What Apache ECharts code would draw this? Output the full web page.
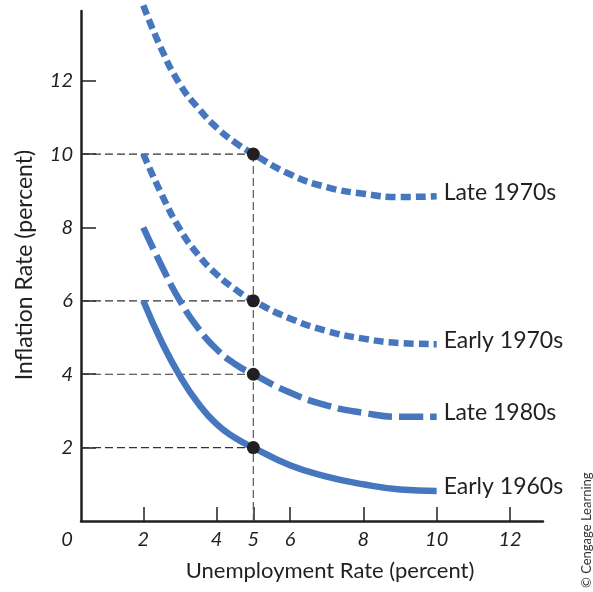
<!DOCTYPE html>
<html>
<head>
<meta charset="utf-8">
<script src="https://cdn.jsdelivr.net/npm/echarts@6/dist/echarts.min.js"></script>
<style>
html,body{margin:0;padding:0;background:#fff;}
#chart{width:593px;height:592px;}
</style>
</head>
<body>
<div id="chart"></div>
<script>
// ---- data ----
const unemployment = [2, 2.5, 3, 3.5, 4, 4.5, 5, 6, 7, 8, 9, 10];
const late1970s  = [14.05, 12.85, 11.9, 11.25, 10.72, 10.32, 10, 9.45, 9.1, 8.92, 8.83, 8.85];
const early1970s = [10, 8.9, 7.95, 7.25, 6.72, 6.32, 6, 5.52, 5.18, 4.97, 4.85, 4.82];
const late1980s  = [8, 6.95, 6.0, 5.25, 4.68, 4.28, 4, 3.5, 3.15, 2.95, 2.84, 2.84];
const early1960s = [6, 4.88, 3.95, 3.2, 2.64, 2.27, 2, 1.52, 1.21, 1.0, 0.86, 0.82];
const seriesNames = ['Late 1970s', 'Early 1970s', 'Late 1980s', 'Early 1960s'];
const markedX = 5;
const markedY = [10, 6, 4, 2];
const xTicks = [2, 4, 5, 6, 8, 10, 12];
const yTicks = [2, 4, 6, 8, 10, 12];
const xMin = 0.3, xMax = 12.9, yMin = 0, yMax = 13.9;
const xTitle = 'Unemployment Rate (percent)';
const yTitle = 'Inflation Rate (percent)';
const credit = '© Cengage Learning';

// ---- chart ----
const BLUE = '#4677be';
const INK = '#231f20';
const FONT = 'Lato, "DejaVu Sans", sans-serif';
const pairs = ys => unemployment.map((x, i) => [x, ys[i]]);

const curve = (name, ys, dash) => ({
  name, type: 'line', data: pairs(ys), smooth: 0.5, symbol: 'none', clip: false, z: 3,
  lineStyle: { color: BLUE, width: 6.5, type: dash, cap: 'butt' },
  endLabel: { show: true, formatter: '{a}', color: INK, fontSize: 23, fontFamily: FONT, distance: 7, offset: [0, -4] },
  emphasis: { disabled: true }, animation: false
});

const guides = [];
markedY.forEach(y => {
  guides.push({ type: 'line', data: [[xMin, y], [markedX, y]], symbol: 'none', z: 2, silent: true, animation: false,
    lineStyle: { color: '#333', width: 1.2, type: [8, 4] } });
});
guides.push({ type: 'line', data: [[markedX, Math.max(...markedY)], [markedX, yMin]], symbol: 'none', z: 2, silent: true, animation: false,
  lineStyle: { color: '#555', width: 1.2, type: [8, 4] } });

const chart = echarts.init(document.getElementById('chart'), null, { renderer: 'canvas' });
chart.setOption({
  animation: false,
  grid: { left: 81, right: 50, top: 11, bottom: 71, containLabel: false },
  xAxis: {
    type: 'value', min: xMin, max: xMax,
    splitLine: { show: false },
    axisLine: { lineStyle: { color: INK, width: 2.5 } },
    axisTick: { inside: true, length: 14, customValues: xTicks, lineStyle: { color: INK, width: 1.5 } },
    axisLabel: {
      customValues: [xMin].concat(xTicks), color: INK, fontSize: 20, fontStyle: 'italic', fontFamily: FONT, margin: 9,
      formatter: v => v < 1 ? '{z|0}' : String(v),
      rich: { z: { fontSize: 20, fontStyle: 'italic', fontFamily: FONT, color: INK, padding: [0, 28, 0, 0] } }
    },
    name: xTitle, nameLocation: 'middle', nameGap: 39,
    nameTextStyle: { color: INK, fontSize: 22, fontFamily: FONT, padding: [0, 0, 0, 36] }
  },
  yAxis: {
    type: 'value', min: yMin, max: yMax,
    splitLine: { show: false },
    axisLine: { lineStyle: { color: INK, width: 2.5 } },
    axisTick: { inside: true, length: 15, customValues: yTicks, lineStyle: { color: INK, width: 1.5 } },
    axisLabel: { customValues: yTicks, color: INK, fontSize: 20, fontStyle: 'italic', fontFamily: FONT, margin: 8 },
    name: yTitle, nameLocation: 'middle', nameGap: 45,
    nameTextStyle: { color: INK, fontSize: 23, fontFamily: FONT, padding: [0, 0, 0, 2] }
  },
  graphic: [{
    type: 'text', right: 0, bottom: 4, rotation: Math.PI / 2,
    style: { text: credit, fill: '#333', fontSize: 13, fontFamily: FONT }
  }],
  series: [
    ...guides,
    curve(seriesNames[0], late1970s, [10, 5]),
    curve(seriesNames[1], early1970s, [10, 5]),
    curve(seriesNames[2], late1980s, [24, 7]),
    curve(seriesNames[3], early1960s, 'solid'),
    { type: 'scatter', data: markedY.map(y => [markedX, y]), symbolSize: 13, z: 5, silent: true,
      itemStyle: { color: INK, opacity: 1 }, emphasis: { disabled: true }, animation: false }
  ]
});
</script>
</body>
</html>
